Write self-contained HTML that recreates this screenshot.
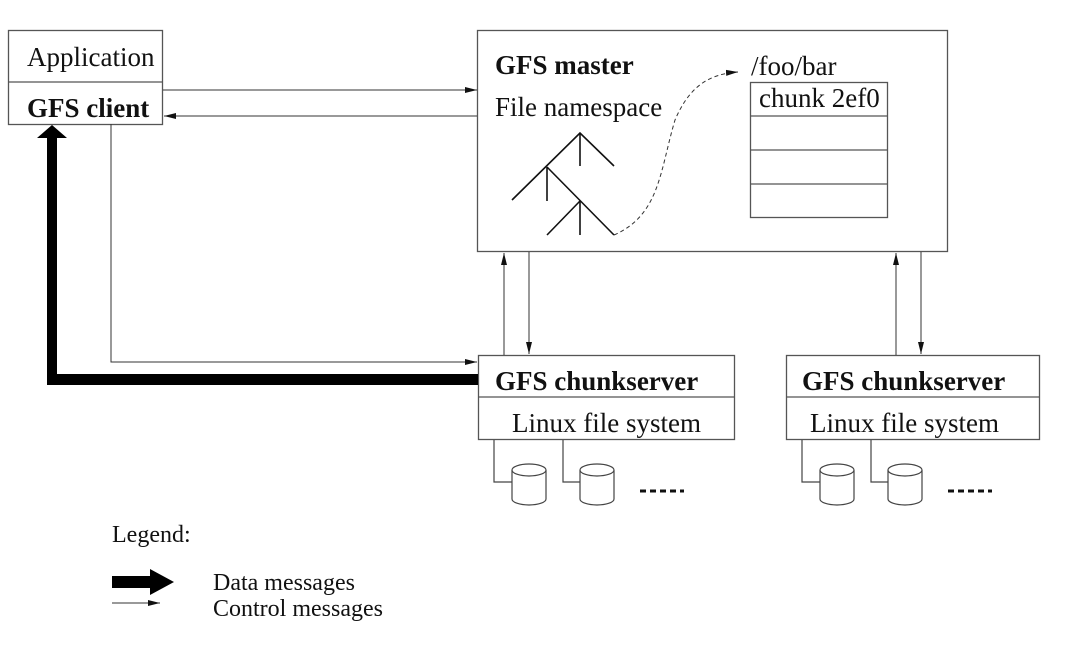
<!DOCTYPE html>
<html><head><meta charset="utf-8"><style>
body{margin:0;background:#fff;}
svg text{font-family:"Liberation Serif",serif;fill:#111;}
</style></head><body>
<svg width="1068" height="654" viewBox="0 0 1068 654" xmlns="http://www.w3.org/2000/svg">
<defs>
<marker id="a" markerWidth="12" markerHeight="8" refX="12" refY="4" orient="auto" markerUnits="userSpaceOnUse"><path d="M0,1 L12,4 L0,7 Z" fill="#111"/></marker>
</defs>
<g stroke="#555" stroke-width="1.3" fill="none">
<rect x="8.5" y="30.5" width="154" height="94"/>
<line x1="8" y1="82" x2="163" y2="82"/>
<rect x="477.5" y="30.5" width="470" height="221"/>
<rect x="750.5" y="82.5" width="137" height="135"/>
<line x1="750" y1="116" x2="888" y2="116"/>
<line x1="750" y1="150" x2="888" y2="150"/>
<line x1="750" y1="184" x2="888" y2="184"/>
<rect x="478.5" y="355.5" width="256" height="84"/>
<line x1="478" y1="397" x2="735" y2="397"/>
<rect x="786.5" y="355.5" width="253" height="84"/>
<line x1="786" y1="397" x2="1040" y2="397"/>
</g>
<g stroke="#333" stroke-width="1" fill="none">
<line x1="163" y1="90" x2="477" y2="90" marker-end="url(#a)"/>
<line x1="477" y1="116" x2="164" y2="116" marker-end="url(#a)"/>
<polyline points="111,124 111,362 477,362" marker-end="url(#a)"/>
<line x1="504" y1="355" x2="504" y2="253" marker-end="url(#a)"/>
<line x1="529" y1="252" x2="529" y2="354" marker-end="url(#a)"/>
<line x1="896" y1="355" x2="896" y2="253" marker-end="url(#a)"/>
<line x1="921" y1="252" x2="921" y2="354" marker-end="url(#a)"/>
<path d="M614,235 C660,215 660,170 675,120 C690,85 710,74 738,72" stroke-dasharray="4,3" marker-end="url(#a)"/>
</g>
<g stroke="#111" stroke-width="1.6" fill="none">
<polyline points="512,200 580,133 614,166"/><line x1="580" y1="133" x2="580" y2="166"/>
<polyline points="547,167 614,235"/><line x1="547" y1="167" x2="547" y2="201"/>
<polyline points="547,235 580,201"/><line x1="580" y1="201" x2="580" y2="235"/>
</g>
<path d="M478,374 L57,374 L57,138 L67,138 L52,125 L37,138 L47,138 L47,385 L478,385 Z" fill="#000"/>
<g stroke="#444" stroke-width="1.2" fill="#fff">
<polyline points="494,440 494,482 512,482" fill="none"/>
<polyline points="563,440 563,482 580,482" fill="none"/>
<polyline points="802,440 802,482 820,482" fill="none"/>
<polyline points="871,440 871,482 888,482" fill="none"/>
<path d="M512,470 L512,499 A17,6 0 0 0 546,499 L546,470"/><ellipse cx="529" cy="470" rx="17" ry="6"/>
<path d="M580,470 L580,499 A17,6 0 0 0 614,499 L614,470"/><ellipse cx="597" cy="470" rx="17" ry="6"/>
<path d="M820,470 L820,499 A17,6 0 0 0 854,499 L854,470"/><ellipse cx="837" cy="470" rx="17" ry="6"/>
<path d="M888,470 L888,499 A17,6 0 0 0 922,499 L922,470"/><ellipse cx="905" cy="470" rx="17" ry="6"/>
</g>
<g stroke="#111" stroke-width="3" stroke-dasharray="6,4">
<line x1="640" y1="491" x2="684" y2="491"/>
<line x1="948" y1="491" x2="992" y2="491"/>
</g>
<path d="M112,576 L150,576 L150,569 L174,582 L150,595 L150,588 L112,588 Z" fill="#000"/>
<line x1="112" y1="603" x2="160" y2="603" stroke="#333" stroke-width="1" marker-end="url(#a)"/>
<g font-size="27">
<text x="27" y="66">Application</text>
<text x="27" y="117" font-weight="bold">GFS client</text>
<text x="495" y="74" font-weight="bold">GFS master</text>
<text x="495" y="116">File namespace</text>
<text x="751" y="75" font-family="Liberation Sans" font-size="27">/foo/bar</text>
<text x="759" y="107">chunk 2ef0</text>
<text x="495" y="390" font-weight="bold">GFS chunkserver</text>
<text x="512" y="432">Linux file system</text>
<text x="802" y="390" font-weight="bold">GFS chunkserver</text>
<text x="810" y="432">Linux file system</text>
</g>
<g font-size="24">
<text x="112" y="542">Legend:</text>
<text x="213" y="590">Data messages</text>
<text x="213" y="616">Control messages</text>
</g>
</svg>
</body></html>
